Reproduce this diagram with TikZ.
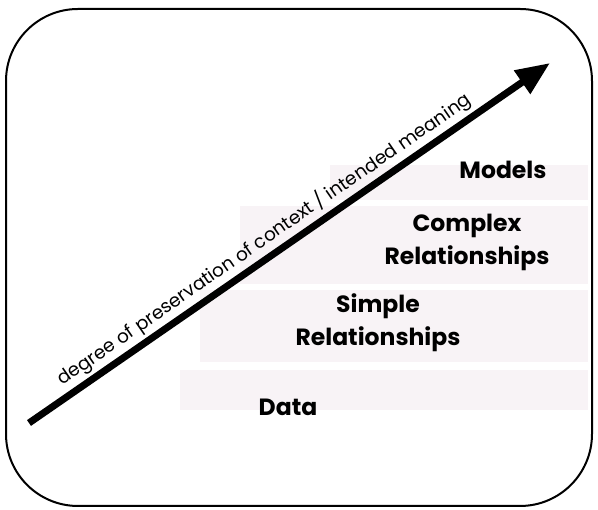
\documentclass[tikz,border=0pt]{standalone}
\usepackage{fontspec}
\setmainfont{Poppins}
\usetikzlibrary{arrows.meta}
\definecolor{bandpink}{HTML}{F8F3F6}
\tikzset{
  frame/.style={draw=black, line width=2pt, rounded corners=72pt},
  band/.style={fill=bandpink, draw=none},
  levellabel/.style={font=\fontsize{23.5}{33}\selectfont\bfseries, align=center, inner sep=0pt},
  bigarrow/.style={line width=7pt, -{Triangle[length=34pt,width=27pt]}},
  arrowlabel/.style={font=\fontsize{18.5}{20}\selectfont, sloped, above, inner sep=3pt}
}
\begin{document}
\begin{tikzpicture}[x=1pt,y=1pt]
\useasboundingbox (0,0) rectangle (598,510);
\draw[frame] (6,4) rectangle (592,501);
% bands
\fill[band] (330,310) rectangle (588,345);
\fill[band] (240,226) rectangle (588,304);
\fill[band] (200,148) rectangle (588,220);
\fill[band] (180,100) rectangle (588,140);
% labels
\node[levellabel] (models) at (503,340) {Models};
\node[levellabel] (complex) at (467,268) {Complex\\Relationships};
\node[levellabel] (simple) at (378,187) {Simple\\Relationships};
\node[levellabel] (data) at (288,103) {Data};
% arrow
\coordinate (start) at (29,87);
\coordinate (tip) at (550,447);
\draw[bigarrow] (start) -- node[arrowlabel, pos=0.47] (lbl) {degree of preservation of context / intended meaning} (tip);
\end{tikzpicture}
\end{document}
